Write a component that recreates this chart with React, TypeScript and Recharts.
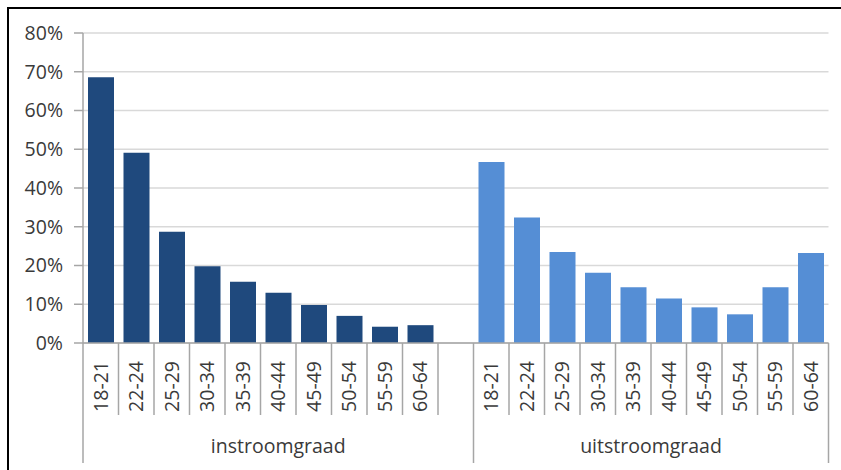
import React from "react";
import { BarChart, Bar, XAxis, YAxis, CartesianGrid } from "recharts";

const ageGroups = ["18-21", "22-24", "25-29", "30-34", "35-39", "40-44", "45-49", "50-54", "55-59", "60-64"];
const instroom = [68.6, 49.1, 28.7, 19.8, 15.8, 13.0, 9.8, 7.0, 4.2, 4.6];
const uitstroom = [46.7, 32.4, 23.5, 18.1, 14.4, 11.5, 9.2, 7.4, 14.4, 23.2];
const groupNames = ["instroomgraad", "uitstroomgraad"];
const yTicks = [0, 10, 20, 30, 40, 50, 60, 70, 80];

// one row per category, with an empty slot between the two groups
const rows = [
  ...ageGroups.map((label, i) => ({ label, instroom: instroom[i] })),
  { label: "" },
  ...ageGroups.map((label, i) => ({ label, uitstroom: uitstroom[i] })),
];

const W = 841;
const H = 470;
const M = { top: 33, right: 12.5, left: 0, bottom: 0 };
const Y_AXIS_W = 83;
const X_AXIS_H = 127;
const BAND = (W - M.left - M.right - Y_AXIS_W) / rows.length;
const FONT = "'Open Sans', 'Segoe UI', sans-serif";
const FONT_SIZE = 19.5;
const TEXT = "#3a3a3a";
const AXIS = "#A6A6A6";

function CategoryTick(props: any) {
  const { x, y, payload, index } = props;
  const left = x - BAND / 2;
  const right = x + BAND / 2;
  const groupEnd = index === ageGroups.length || index === rows.length - 1;
  return (
    <g>
      {index === 0 && <line x1={left} x2={left} y1={y} y2={y + 120} stroke={AXIS} strokeWidth={1.5} />}
      <line x1={right} x2={right} y1={y} y2={y + (groupEnd ? 120 : 72)} stroke={AXIS} strokeWidth={1.5} />
      {payload.value && (
        <text
          x={x}
          y={y + 18}
          dy="0.36em"
          textAnchor="end"
          transform={`rotate(-90, ${x}, ${y + 18})`}
          fill={TEXT}
          fontSize={FONT_SIZE}
          fontFamily={FONT}
        >
          {payload.value}
        </text>
      )}
      {index === 5 && (
        <text x={x} y={y + 110} textAnchor="middle" fill={TEXT} fontSize={FONT_SIZE} fontFamily={FONT}>
          {groupNames[0]}
        </text>
      )}
      {index === 15 && (
        <text x={right} y={y + 110} textAnchor="middle" fill={TEXT} fontSize={FONT_SIZE} fontFamily={FONT}>
          {groupNames[1]}
        </text>
      )}
    </g>
  );
}

export default function App() {
  return (
    <div style={{ position: "absolute", left: 0, top: 0, width: W, height: H, background: "#fff" }}>
      <div
        style={{
          position: "absolute",
          left: 7,
          top: 7,
          right: 0,
          bottom: 0,
          borderLeft: "2px solid #000",
          borderTop: "2px solid #000",
        }}
      />
      <BarChart width={W} height={H} data={rows} margin={M} barSize={26}>
        <CartesianGrid vertical={false} stroke="#D9D9D9" strokeWidth={1.5} />
        <XAxis
          dataKey="label"
          height={X_AXIS_H}
          interval={0}
          tickLine={false}
          tickSize={0}
          tickMargin={0}
          axisLine={{ stroke: AXIS, strokeWidth: 1.5 }}
          tick={<CategoryTick />}
        />
        <YAxis
          width={Y_AXIS_W}
          domain={[0, 80]}
          ticks={yTicks}
          interval={0}
          tickFormatter={(v: number) => `${v}%`}
          tickSize={9}
          tickMargin={11}
          tickLine={{ stroke: AXIS, strokeWidth: 1.5 }}
          axisLine={{ stroke: AXIS, strokeWidth: 1.5 }}
          tick={{ fill: TEXT, fontSize: FONT_SIZE, fontFamily: FONT }}
        />
        <Bar dataKey="instroom" stackId="g" fill="#1F497D" isAnimationActive={false} />
        <Bar dataKey="uitstroom" stackId="g" fill="#558ED5" isAnimationActive={false} />
      </BarChart>
    </div>
  );
}
